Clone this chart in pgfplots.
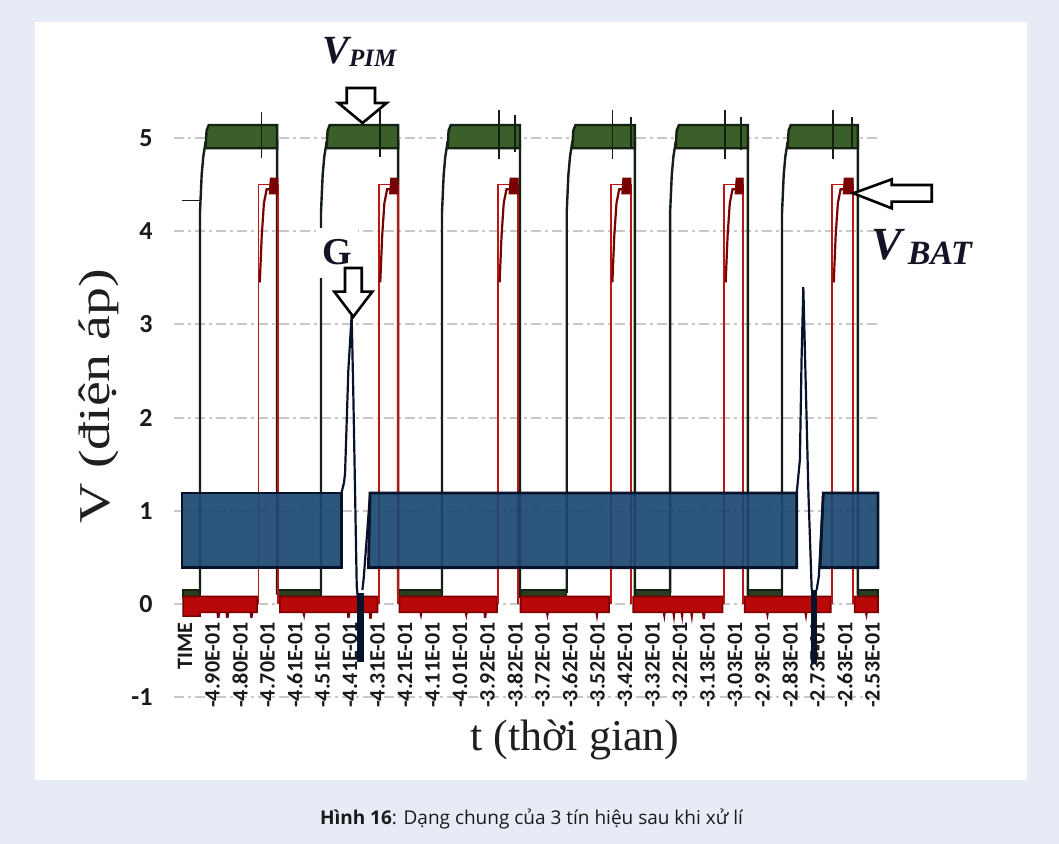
\documentclass[border=0pt]{standalone}
\usepackage{pgfplots}
\pgfplotsset{compat=1.18}
\usepackage{fontspec}
\setmainfont{Liberation Serif}
\newfontfamily\tickfont{Carlito}
\newfontfamily\capfont{Open Sans}
\definecolor{bgc}{RGB}{231,235,246}
\definecolor{pimgreen}{RGB}{58,95,40}
\definecolor{pimlow}{RGB}{40,62,30}
\definecolor{pimline}{RGB}{20,32,20}
\definecolor{batred}{RGB}{190,20,20}
\definecolor{batband}{RGB}{185,8,8}
\definecolor{batdark}{RGB}{120,0,0}
\definecolor{gblue}{RGB}{28,72,115}
\definecolor{gnavy}{RGB}{8,18,42}
\definecolor{gridc}{RGB}{200,200,200}
\definecolor{lbl}{RGB}{20,20,38}
\begin{document}
\begin{tikzpicture}
\begin{scope}[shift={(0pt,422pt)},x=0.5pt,y=-0.5pt]
\fill[bgc] (0,0) rectangle (1059,844);
\fill[white] (35,22) rectangle (1027,780);
\end{scope}
\begin{axis}[at={(87pt,64.08pt)}, anchor=south west, scale only axis,
  width=352pt, height=312.22pt,
  xmin=-0.4, xmax=25.2, ymin=-1.2, ymax=5.5,
  axis line style={draw=none}, tick style={draw=none},
  ytick={-1,0,1,2,3,4,5}, yticklabels={-1,0,1,2,3,4,5},
  ymajorgrids, grid style={gridc, line width=1pt, dash pattern=on 5pt off 2pt on 1.5pt off 2pt},
  xtick={0,1,...,25},
  xticklabels={TIME,-4.90E-01,-4.80E-01,-4.70E-01,-4.61E-01,-4.51E-01,-4.41E-01,-4.31E-01,-4.21E-01,-4.11E-01,-4.01E-01,-3.92E-01,-3.82E-01,-3.72E-01,-3.62E-01,-3.52E-01,-3.42E-01,-3.32E-01,-3.22E-01,-3.13E-01,-3.03E-01,-2.93E-01,-2.83E-01,-2.73E-01,-2.63E-01,-2.53E-01},
  xticklabel style={yshift=46.92pt, rotate=90, anchor=east, inner sep=0pt, text=black!90, font=\tickfont\bfseries\fontsize{11}{12}\selectfont},
  yticklabel style={anchor=east, inner sep=0pt, xshift=-10.5pt, text=black!90, font=\tickfont\bfseries\fontsize{13}{14}\selectfont},
  clip=false]
% ---- V_PIM low strips
\addplot[fill=pimlow, draw=pimline, line width=0.6pt] coordinates {(-0.07,0.075)(0.545,0.075)(0.545,0.15)(-0.07,0.15)} -- cycle;
\addplot[fill=pimlow, draw=pimline, line width=0.6pt] coordinates {(3.35,0.075)(4.945,0.075)(4.945,0.15)(3.35,0.15)} -- cycle;
\addplot[fill=pimlow, draw=pimline, line width=0.6pt] coordinates {(7.75,0.075)(9.345,0.075)(9.345,0.15)(7.75,0.15)} -- cycle;
\addplot[fill=pimlow, draw=pimline, line width=0.6pt] coordinates {(12.18,0.075)(13.88,0.075)(13.88,0.15)(12.18,0.15)} -- cycle;
\addplot[fill=pimlow, draw=pimline, line width=0.6pt] coordinates {(16.36,0.075)(17.64,0.075)(17.64,0.15)(16.36,0.15)} -- cycle;
\addplot[fill=pimlow, draw=pimline, line width=0.6pt] coordinates {(20.47,0.075)(21.71,0.075)(21.71,0.15)(20.47,0.15)} -- cycle;
\addplot[fill=pimlow, draw=pimline, line width=0.6pt] coordinates {(24.47,0.075)(25.2,0.075)(25.2,0.15)(24.47,0.15)} -- cycle;
% ---- V_BAT low noise band
\addplot[fill=batband, draw=batdark, line width=0.8pt] coordinates {(-0.07,0.08)(2.62,0.08)(2.62,-0.09)(2.45,-0.09)(2.43,-0.14)(2.40,-0.14)(2.38,-0.09)(1.58,-0.09)(1.56,-0.14)(1.52,-0.14)(1.50,-0.09)(1.25,-0.09)(1.23,-0.14)(1.19,-0.14)(1.17,-0.09)(0.55,-0.09)(0.55,-0.13)(-0.07,-0.13)} -- cycle;
\addplot[fill=batband, draw=batdark, line width=0.8pt] coordinates {(3.45,0.08)(7.0,0.08)(7.0,-0.09)(6.78,-0.09)(6.76,-0.15)(6.73,-0.15)(6.71,-0.09)(6.42,-0.09)(6.40,-0.14)(6.37,-0.09)(5.98,-0.09)(5.96,-0.14)(5.93,-0.14)(5.91,-0.09)(4.35,-0.09)(4.33,-0.13)(4.30,-0.09)(3.45,-0.09)} -- cycle;
\addplot[fill=batband, draw=batdark, line width=0.8pt] coordinates {(7.8,0.08)(11.35,0.08)(11.35,-0.09)(10.95,-0.09)(10.93,-0.14)(10.90,-0.14)(10.88,-0.09)(10.25,-0.09)(10.23,-0.13)(10.20,-0.09)(8.6,-0.09)(8.58,-0.13)(8.55,-0.09)(7.8,-0.09)} -- cycle;
\addplot[fill=batband, draw=batdark, line width=0.8pt] coordinates {(12.2,0.08)(15.42,0.08)(15.42,-0.09)(15.0,-0.09)(14.98,-0.14)(14.95,-0.09)(13.2,-0.09)(13.18,-0.13)(13.15,-0.09)(12.2,-0.09)} -- cycle;
\addplot[fill=batband, draw=batdark, line width=0.8pt] coordinates {(16.3,0.08)(19.55,0.08)(19.55,-0.09)(18.9,-0.09)(18.88,-0.15)(18.85,-0.15)(18.83,-0.09)(18.45,-0.09)(18.43,-0.15)(18.40,-0.09)(18.1,-0.09)(18.08,-0.15)(18.05,-0.09)(17.8,-0.09)(17.78,-0.15)(17.75,-0.09)(17.45,-0.09)(17.43,-0.14)(17.40,-0.09)(16.3,-0.09)} -- cycle;
\addplot[fill=batband, draw=batdark, line width=0.8pt] coordinates {(20.35,0.08)(23.48,0.08)(23.48,-0.09)(22.6,-0.09)(22.58,-0.14)(22.55,-0.09)(21.2,-0.09)(21.18,-0.13)(21.15,-0.09)(20.35,-0.09)} -- cycle;
\addplot[fill=batband, draw=batdark, line width=0.8pt] coordinates {(24.35,0.08)(25.2,0.08)(25.2,-0.09)(24.8,-0.09)(24.78,-0.13)(24.75,-0.09)(24.35,-0.09)} -- cycle;
% ---- V_PIM waveform
\addplot[pimline, line width=0.8pt] coordinates {(-0.12,4.33)(0.545,4.33)};
\addplot[pimline, line width=1.2pt] coordinates {(0.545,0.12)(0.545,4.2)(0.605,4.6)(0.665,4.8)(0.745,4.95)(3.35,4.97)(3.35,0.1)};
\addplot[pimline, line width=1.2pt] coordinates {(4.945,0.12)(4.945,4.2)(5.005,4.6)(5.065,4.8)(5.145,4.95)(7.75,4.97)(7.75,0.1)};
\addplot[pimline, line width=1.2pt] coordinates {(9.345,0.12)(9.345,4.2)(9.405,4.6)(9.465,4.8)(9.545,4.95)(12.18,4.97)(12.18,0.1)};
\addplot[pimline, line width=1.2pt] coordinates {(13.88,0.12)(13.88,4.2)(13.94,4.6)(14.0,4.8)(14.08,4.95)(16.36,4.97)(16.36,0.1)};
\addplot[pimline, line width=1.2pt] coordinates {(17.64,0.12)(17.64,4.2)(17.70,4.6)(17.76,4.8)(17.84,4.95)(20.47,4.97)(20.47,0.1)};
\addplot[pimline, line width=1.2pt] coordinates {(21.71,0.12)(21.71,4.2)(21.77,4.6)(21.83,4.8)(21.91,4.95)(24.47,4.97)(24.47,0.1)};
% ---- V_PIM high bands
\addplot[fill=pimgreen, draw=pimline, line width=1.2pt] coordinates {(0.745,4.89)(3.35,4.89)(3.35,5.14)(0.865,5.14)(0.785,5.08)} -- cycle;
\addplot[fill=pimgreen, draw=pimline, line width=1.2pt] coordinates {(5.145,4.89)(7.75,4.89)(7.75,5.14)(5.265,5.14)(5.185,5.08)} -- cycle;
\addplot[fill=pimgreen, draw=pimline, line width=1.2pt] coordinates {(9.545,4.89)(12.18,4.89)(12.18,5.14)(9.665,5.14)(9.585,5.08)} -- cycle;
\addplot[fill=pimgreen, draw=pimline, line width=1.2pt] coordinates {(14.08,4.89)(16.36,4.89)(16.36,5.14)(14.2,5.14)(14.12,5.08)} -- cycle;
\addplot[fill=pimgreen, draw=pimline, line width=1.2pt] coordinates {(17.84,4.89)(20.47,4.89)(20.47,5.14)(17.96,5.14)(17.88,5.08)} -- cycle;
\addplot[fill=pimgreen, draw=pimline, line width=1.2pt] coordinates {(21.91,4.89)(24.47,4.89)(24.47,5.14)(22.03,5.14)(21.95,5.08)} -- cycle;
% ---- glitch ticks
\addplot[pimline, line width=0.7pt] coordinates {(2.79,4.79)(2.79,5.28)};
\addplot[pimline, line width=0.7pt] coordinates {(7.09,4.8)(7.09,5.3)};
\addplot[pimline, line width=0.7pt] coordinates {(11.42,4.78)(11.42,5.3)};
\addplot[pimline, line width=0.7pt] coordinates {(12.0,4.85)(12.0,5.25)};
\addplot[pimline, line width=0.7pt] coordinates {(15.54,4.78)(15.54,5.3)};
\addplot[pimline, line width=0.7pt] coordinates {(16.22,4.88)(16.22,5.22)};
\addplot[pimline, line width=0.7pt] coordinates {(19.64,4.78)(19.64,5.3)};
\addplot[pimline, line width=0.7pt] coordinates {(20.22,4.87)(20.22,5.22)};
\addplot[pimline, line width=0.7pt] coordinates {(23.56,4.78)(23.56,5.3)};
\addplot[pimline, line width=0.7pt] coordinates {(24.25,4.88)(24.25,5.22)};
% ---- V_BAT pulses
\addplot[batred, line width=0.9pt] coordinates {(2.67,0)(2.67,4.5)(3.38,4.5)(3.38,0)};
\addplot[batred, line width=0.9pt] coordinates {(7.05,0)(7.05,4.5)(7.74,4.5)(7.74,0)};
\addplot[batred, line width=0.9pt] coordinates {(11.39,0)(11.39,4.5)(12.12,4.5)(12.12,0)};
\addplot[batred, line width=0.9pt] coordinates {(15.49,0)(15.49,4.5)(16.22,4.5)(16.22,0)};
\addplot[batred, line width=0.9pt] coordinates {(19.61,0)(19.61,4.5)(20.30,4.5)(20.30,0)};
\addplot[batred, line width=0.9pt] coordinates {(23.54,0)(23.54,4.5)(24.30,4.5)(24.30,0)};
\addplot[fill=batdark, draw=batdark, line width=0.4pt] coordinates {(3.06,4.40)(3.10,4.57)(3.38,4.57)(3.38,4.40)} -- cycle;
\addplot[fill=batdark, draw=batdark, line width=0.4pt] coordinates {(7.44,4.40)(7.48,4.57)(7.74,4.57)(7.74,4.40)} -- cycle;
\addplot[fill=batdark, draw=batdark, line width=0.4pt] coordinates {(11.78,4.40)(11.82,4.57)(12.12,4.57)(12.12,4.40)} -- cycle;
\addplot[fill=batdark, draw=batdark, line width=0.4pt] coordinates {(15.88,4.40)(15.92,4.57)(16.22,4.57)(16.22,4.40)} -- cycle;
\addplot[fill=batdark, draw=batdark, line width=0.4pt] coordinates {(20.0,4.40)(20.04,4.57)(20.30,4.57)(20.30,4.40)} -- cycle;
\addplot[fill=batdark, draw=batdark, line width=0.4pt] coordinates {(23.93,4.40)(23.97,4.57)(24.30,4.57)(24.30,4.40)} -- cycle;
\addplot[batdark, line width=1.1pt] coordinates {(2.72,3.45)(2.79,3.95)(2.87,4.3)(2.97,4.45)(3.08,4.45)};
\addplot[batdark, line width=1.1pt] coordinates {(7.10,3.45)(7.17,3.95)(7.25,4.3)(7.35,4.45)(7.46,4.45)};
\addplot[batdark, line width=1.1pt] coordinates {(11.44,3.45)(11.51,3.95)(11.59,4.3)(11.69,4.45)(11.80,4.45)};
\addplot[batdark, line width=1.1pt] coordinates {(15.54,3.45)(15.61,3.95)(15.69,4.3)(15.79,4.45)(15.90,4.45)};
\addplot[batdark, line width=1.1pt] coordinates {(19.66,3.45)(19.73,3.95)(19.81,4.3)(19.91,4.45)(20.02,4.45)};
\addplot[batdark, line width=1.1pt] coordinates {(23.59,3.45)(23.66,3.95)(23.74,4.3)(23.84,4.45)(23.95,4.45)};
% ---- G band
\addplot[fill=gblue, fill opacity=0.92, draw=gnavy, line width=1.4pt] coordinates {(-0.11,0.39)(5.69,0.39)(5.69,1.19)(-0.11,1.19)} -- cycle;
\addplot[fill=gblue, fill opacity=0.92, draw=gnavy, line width=1.4pt] coordinates {(6.67,0.39)(22.244,0.39)(22.244,1.19)(6.73,1.19)(6.70,0.8)} -- cycle;
\addplot[fill=gblue, fill opacity=0.92, draw=gnavy, line width=1.4pt] coordinates {(23.09,0.39)(25.2,0.39)(25.2,1.19)(23.21,1.19)(23.15,0.8)} -- cycle;
% ---- G spikes
\addplot[gnavy, line width=1.1pt] coordinates {(5.69,1.19)(5.78,1.30)(5.82,1.40)(5.94,2.51)(6.06,3.10)(6.12,2.26)(6.245,0.19)(6.29,0.05)};
\addplot[gnavy, line width=1.1pt] coordinates {(6.45,0.15)(6.50,0.28)(6.62,0.75)(6.73,1.19)};
\addplot[fill=gnavy, draw=gnavy, line width=0.3pt] coordinates {(6.27,0.12)(6.47,0.12)(6.47,-0.62)(6.27,-0.62)} -- cycle;
\addplot[gnavy, line width=1.1pt] coordinates {(22.244,1.19)(22.36,1.55)(22.42,2.62)(22.484,3.40)(22.55,2.62)(22.67,1.19)(22.789,0.15)};
\addplot[gnavy, line width=1.1pt] coordinates {(22.97,0.15)(23.05,0.3)(23.21,1.19)};
\addplot[fill=gnavy, draw=gnavy, line width=0.3pt] coordinates {(22.79,0.15)(22.97,0.15)(22.97,-0.63)(22.79,-0.63)} -- cycle;
\end{axis}
\begin{scope}[shift={(0pt,422pt)},x=0.5pt,y=-0.5pt]
% white patch behind G
\fill[white] (316,228) rectangle (358,278);
\node[anchor=base west, inner sep=0pt, text=lbl, font=\bfseries\fontsize{19}{19}\selectfont] at (322,265) {G};
% arrows
\draw[black, line width=1.3pt, fill=white, line join=miter] (346.7,88)--(375,88)--(375,103)--(386.7,103)--(362.5,123)--(338.3,103)--(346.7,103)--cycle;
\draw[black, line width=1.3pt, fill=white, line join=miter] (345,268)--(361.7,268)--(361.7,291.7)--(372.3,291.7)--(353.3,316.7)--(334.3,291.7)--(345,291.7)--cycle;
\draw[black, line width=1.3pt, fill=white, line join=miter] (931.7,185)--(931.7,201.7)--(891.7,201.7)--(891.7,208.3)--(853.3,193.3)--(891.7,179.3)--(891.7,185)--cycle;
% labels
\node[anchor=base west, inner sep=0pt, text=lbl] at (322,63.3) {{\bfseries\itshape\fontsize{20}{20}\selectfont V}{\bfseries\itshape\fontsize{12.5}{12.5}\selectfont\raisebox{-1.7pt}{PIM}}};
\node[anchor=base west, inner sep=0pt, text=lbl] at (871,260) {{\bfseries\itshape\fontsize{23}{23}\selectfont V}{\bfseries\itshape\fontsize{17}{17}\selectfont\raisebox{-2.5pt}{\,BAT}}};
\node[rotate=90, xscale=1.27, inner sep=0pt, text=black!88, font=\fontsize{22}{22}\selectfont] at (99,396) {V (điện áp)};
\node[inner sep=0pt, text=black!88, font=\fontsize{22}{22}\selectfont] at (575,740) {t (thời gian)};
\node[anchor=base, inner sep=0pt, text=black!90, font=\capfont\fontsize{9.5}{11}\selectfont] at (531.5,825) {\textbf{Hình 16}: Dạng chung của 3 tín hiệu sau khi xử lí};
\end{scope}
\end{tikzpicture}
\end{document}
